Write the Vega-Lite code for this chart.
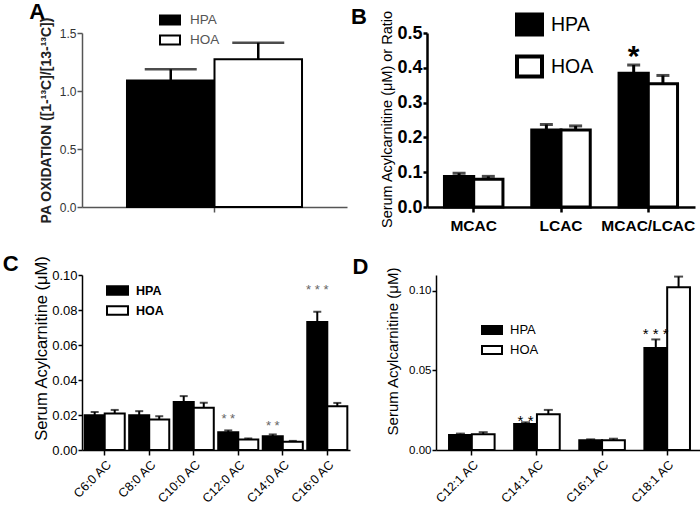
{
"$schema": "https://vega.github.io/schema/vega-lite/v6.json",
"background": "white",
"padding": {"left": 2, "top": 1, "right": 0, "bottom": 0},
"config": {"font": "Liberation Sans", "view": {"stroke": null}, "axis": {"grid": false, "labelOverlap": false}, "title": {"fontSize": 22, "fontWeight": "bold", "anchor": "start", "frame": "bounds", "color": "black", "baseline": "alphabetic"}},
"datasets": {
 "A": [
  {"cat": "PA", "group": "HPA", "value": 1.09, "err": 1.187},
  {"cat": "PA", "group": "HOA", "value": 1.273, "err": 1.416}
 ],
 "B": [
  {"cat": "MCAC", "group": "HPA", "value": 0.088, "err": 0.097, "star": "", "star_y": 0.097},
  {"cat": "MCAC", "group": "HOA", "value": 0.080, "err": 0.088, "star": "", "star_y": 0.088},
  {"cat": "LCAC", "group": "HPA", "value": 0.221, "err": 0.237, "star": "", "star_y": 0.237},
  {"cat": "LCAC", "group": "HOA", "value": 0.221, "err": 0.233, "star": "", "star_y": 0.233},
  {"cat": "MCAC/LCAC", "group": "HPA", "value": 0.384, "err": 0.408, "star": "*", "star_y": 0.453},
  {"cat": "MCAC/LCAC", "group": "HOA", "value": 0.354, "err": 0.378, "star": "", "star_y": 0.378}
 ],
 "C": [
  {"cat": "C6:0 AC", "group": "HPA", "value": 0.0198, "err": 0.0217, "star": "", "star_y": 0.0217},
  {"cat": "C6:0 AC", "group": "HOA", "value": 0.0209, "err": 0.0229, "star": "", "star_y": 0.0229},
  {"cat": "C8:0 AC", "group": "HPA", "value": 0.0198, "err": 0.0222, "star": "", "star_y": 0.0222},
  {"cat": "C8:0 AC", "group": "HOA", "value": 0.0174, "err": 0.0193, "star": "", "star_y": 0.0193},
  {"cat": "C10:0 AC", "group": "HPA", "value": 0.0275, "err": 0.0308, "star": "", "star_y": 0.0308},
  {"cat": "C10:0 AC", "group": "HOA", "value": 0.0241, "err": 0.0270, "star": "", "star_y": 0.0270},
  {"cat": "C12:0 AC", "group": "HPA", "value": 0.0102, "err": 0.0112, "star": "* *", "star_y": 0.0194},
  {"cat": "C12:0 AC", "group": "HOA", "value": 0.0060, "err": 0.0066, "star": "", "star_y": 0.0066},
  {"cat": "C14:0 AC", "group": "HPA", "value": 0.0079, "err": 0.0089, "star": "* *", "star_y": 0.0156},
  {"cat": "C14:0 AC", "group": "HOA", "value": 0.0047, "err": 0.0052, "star": "", "star_y": 0.0052},
  {"cat": "C16:0 AC", "group": "HPA", "value": 0.0732, "err": 0.0790, "star": "* * *", "star_y": 0.0932},
  {"cat": "C16:0 AC", "group": "HOA", "value": 0.0250, "err": 0.0269, "star": "", "star_y": 0.0269}
 ],
 "D": [
  {"cat": "C12:1 AC", "group": "HPA", "value": 0.0094, "err": 0.0103, "star": "", "star_y": 0.0103},
  {"cat": "C12:1 AC", "group": "HOA", "value": 0.0099, "err": 0.0112, "star": "", "star_y": 0.0112},
  {"cat": "C14:1 AC", "group": "HPA", "value": 0.0163, "err": 0.0174, "star": "* *", "star_y": 0.0210},
  {"cat": "C14:1 AC", "group": "HOA", "value": 0.0224, "err": 0.0252, "star": "", "star_y": 0.0252},
  {"cat": "C16:1 AC", "group": "HPA", "value": 0.0062, "err": 0.0067, "star": "", "star_y": 0.0067},
  {"cat": "C16:1 AC", "group": "HOA", "value": 0.0062, "err": 0.0071, "star": "", "star_y": 0.0071},
  {"cat": "C18:1 AC", "group": "HPA", "value": 0.0641, "err": 0.0695, "star": "* * *", "star_y": 0.0752},
  {"cat": "C18:1 AC", "group": "HOA", "value": 0.1023, "err": 0.1090, "star": "", "star_y": 0.1090}
 ]
},
"resolve": {"scale": {"fill": "independent", "xOffset": "independent"}, "legend": {"fill": "independent"}},
"spacing": 19,
"columns": 1,
"align": "none",
"concat": [
 {
  "hconcat": [
   {
    "width": 265, "height": 174,
    "title": {"text": "A", "dx": -10, "offset": -15},
    "data": {"name": "A"},
    "encoding": {
     "x": {"field": "cat", "type": "nominal", "title": null, "scale": {"type": "band", "paddingInner": 0, "paddingOuter": 0.257}, "axis": {"labels": false, "ticks": true, "tickSize": 5, "tickColor": "#555", "domainColor": "#555", "domainWidth": 1.5, "tickWidth": 1.5}},
     "xOffset": {"field": "group", "type": "nominal", "scale": {"type": "band", "domain": ["HPA", "HOA"], "paddingInner": 0, "paddingOuter": 0}}
    },
    "layer": [
     {"mark": {"type": "bar", "stroke": "black", "strokeWidth": 2},
      "encoding": {
       "y": {"field": "value", "type": "quantitative", "scale": {"domain": [0, 1.5], "nice": false}, "axis": {"title": "PA OXIDATION ([1-¹³C]/[13-¹³C])", "values": [0, 0.5, 1, 1.5], "format": ".1f", "labelOverlap": false, "labelFontSize": 12, "labelColor": "#333", "titleFontSize": 14, "titleFontWeight": "bold", "titleColor": "#222", "domainColor": "#555", "tickColor": "#555", "domainWidth": 1.5, "tickWidth": 1.5, "tickSize": 5, "labelPadding": 1, "titlePadding": 6}},
       "fill": {"field": "group", "type": "nominal", "scale": {"domain": ["HPA", "HOA"], "range": ["black", "white"]}, "legend": {"orient": "none", "legendX": 77, "legendY": -24, "title": null, "symbolType": "M-1,-0.45H1V0.45H-1Z", "symbolSize": 400, "symbolStrokeColor": "black", "symbolStrokeWidth": 2, "labelFontSize": 13.5, "labelColor": "#555", "labelOffset": 9, "rowPadding": 0, "padding": 0}}
      }},
     {"mark": {"type": "rule", "strokeWidth": 2.5, "color": "black"},
      "encoding": {"y": {"field": "value", "type": "quantitative", "scale": {"domain": [0, 1.5], "nice": false}, "axis": {"title": "PA OXIDATION ([1-¹³C]/[13-¹³C])", "values": [0, 0.5, 1, 1.5], "format": ".1f", "labelOverlap": false, "labelFontSize": 12, "labelColor": "#333", "titleFontSize": 14, "titleFontWeight": "bold", "titleColor": "#222", "domainColor": "#555", "tickColor": "#555", "domainWidth": 1.5, "tickWidth": 1.5, "tickSize": 5, "labelPadding": 1, "titlePadding": 6}}, "y2": {"field": "err"}}},
     {"mark": {"type": "tick", "thickness": 2.5, "size": 52, "color": "black"},
      "encoding": {"y": {"field": "err", "type": "quantitative", "scale": {"domain": [0, 1.5], "nice": false}, "axis": {"title": "PA OXIDATION ([1-¹³C]/[13-¹³C])", "values": [0, 0.5, 1, 1.5], "format": ".1f", "labelOverlap": false, "labelFontSize": 12, "labelColor": "#333", "titleFontSize": 14, "titleFontWeight": "bold", "titleColor": "#222", "domainColor": "#555", "tickColor": "#555", "domainWidth": 1.5, "tickWidth": 1.5, "tickSize": 5, "labelPadding": 1, "titlePadding": 6}}}}
    ]
   },
   {
    "width": 268, "height": 174,
    "title": {"text": "B", "dx": -29, "offset": -19},
    "data": {"name": "B"},
    "encoding": {
     "x": {"field": "cat", "type": "nominal", "title": null, "scale": {"type": "band", "domain": ["MCAC", "LCAC", "MCAC/LCAC"], "paddingInner": 0.33, "paddingOuter": 0.2}, "axis": {"labelAngle": 0, "labelFontSize": 15.5, "labelFontWeight": "bold", "labelColor": "black", "tickSize": 5, "tickColor": "black", "tickWidth": 2.5, "domainColor": "black", "domainWidth": 2.5, "labelPadding": 6}},
     "xOffset": {"field": "group", "type": "nominal", "scale": {"type": "band", "domain": ["HPA", "HOA"], "paddingInner": 0, "paddingOuter": 0}}
    },
    "layer": [
     {"mark": {"type": "bar", "stroke": "black", "strokeWidth": 3},
      "encoding": {
       "y": {"field": "value", "type": "quantitative", "scale": {"domain": [0, 0.5], "nice": false}, "axis": {"title": "Serum Acylcarnitine (μM) or Ratio", "titleY": 86, "values": [0, 0.1, 0.2, 0.3, 0.4, 0.5], "format": ".1f", "labelOverlap": false, "labelFontSize": 18, "labelFontWeight": "bold", "labelColor": "black", "titleFontSize": 14.5, "titleFontWeight": "normal", "titleColor": "black", "domainColor": "black", "tickColor": "black", "domainWidth": 2.5, "tickWidth": 2.5, "tickSize": 4, "labelPadding": 1, "titlePadding": 2}},
       "fill": {"field": "group", "type": "nominal", "scale": {"domain": ["HPA", "HOA"], "range": ["black", "white"]}, "legend": {"orient": "none", "legendX": 88, "legendY": -23, "title": null, "symbolType": "M-1,-0.8H1V0.8H-1Z", "symbolSize": 625, "symbolStrokeColor": "black", "symbolStrokeWidth": 4, "labelFontSize": 19.5, "labelColor": "black", "labelOffset": 7, "rowPadding": 5, "padding": 0}}
      }},
     {"mark": {"type": "rule", "strokeWidth": 3, "color": "black"},
      "encoding": {"y": {"field": "value", "type": "quantitative", "scale": {"domain": [0, 0.5], "nice": false}, "axis": {"title": "Serum Acylcarnitine (μM) or Ratio", "titleY": 86, "values": [0, 0.1, 0.2, 0.3, 0.4, 0.5], "format": ".1f", "labelOverlap": false, "labelFontSize": 18, "labelFontWeight": "bold", "labelColor": "black", "titleFontSize": 14.5, "titleFontWeight": "normal", "titleColor": "black", "domainColor": "black", "tickColor": "black", "domainWidth": 2.5, "tickWidth": 2.5, "tickSize": 4, "labelPadding": 1, "titlePadding": 2}}, "y2": {"field": "err"}}},
     {"mark": {"type": "tick", "thickness": 3, "size": 13, "color": "black"},
      "encoding": {"y": {"field": "err", "type": "quantitative", "scale": {"domain": [0, 0.5], "nice": false}, "axis": {"title": "Serum Acylcarnitine (μM) or Ratio", "titleY": 86, "values": [0, 0.1, 0.2, 0.3, 0.4, 0.5], "format": ".1f", "labelOverlap": false, "labelFontSize": 18, "labelFontWeight": "bold", "labelColor": "black", "titleFontSize": 14.5, "titleFontWeight": "normal", "titleColor": "black", "domainColor": "black", "tickColor": "black", "domainWidth": 2.5, "tickWidth": 2.5, "tickSize": 4, "labelPadding": 1, "titlePadding": 2}}}},
     {"mark": {"type": "text", "fontSize": 30, "fontWeight": "bold", "baseline": "middle", "dy": 8, "color": "black"},
      "encoding": {"y": {"field": "star_y", "type": "quantitative", "scale": {"domain": [0, 0.5], "nice": false}, "axis": {"title": "Serum Acylcarnitine (μM) or Ratio", "titleY": 86, "values": [0, 0.1, 0.2, 0.3, 0.4, 0.5], "format": ".1f", "labelOverlap": false, "labelFontSize": 18, "labelFontWeight": "bold", "labelColor": "black", "titleFontSize": 14.5, "titleFontWeight": "normal", "titleColor": "black", "domainColor": "black", "tickColor": "black", "domainWidth": 2.5, "tickWidth": 2.5, "tickSize": 4, "labelPadding": 1, "titlePadding": 2}}, "text": {"field": "star", "type": "nominal"}}}
    ]
   }
  ],
  "spacing": 3,
  "resolve": {"scale": {"fill": "independent", "xOffset": "independent"}, "legend": {"fill": "independent"}}
 },
 {
  "hconcat": [
   {
    "width": 268, "height": 175,
    "title": {"text": "C", "dx": -31, "offset": -21},
    "data": {"name": "C"},
    "encoding": {
     "x": {"field": "cat", "type": "nominal", "title": null, "scale": {"type": "band", "domain": ["C6:0 AC", "C8:0 AC", "C10:0 AC", "C12:0 AC", "C14:0 AC", "C16:0 AC"], "paddingInner": 0.1, "paddingOuter": 0.06}, "axis": {"labelAngle": -45, "labelFontSize": 12.5, "labelColor": "black", "tickSize": 5, "tickColor": "black", "tickWidth": 1.5, "domainColor": "black", "domainWidth": 1.5, "labelPadding": 3}},
     "xOffset": {"field": "group", "type": "nominal", "scale": {"type": "band", "domain": ["HPA", "HOA"], "paddingInner": 0, "paddingOuter": 0}}
    },
    "layer": [
     {"mark": {"type": "bar", "stroke": "black", "strokeWidth": 2},
      "encoding": {
       "y": {"field": "value", "type": "quantitative", "scale": {"domain": [0, 0.1], "nice": false}, "axis": {"title": "Serum Acylcarnitine (μM)", "titleY": 73, "values": [0, 0.02, 0.04, 0.06, 0.08, 0.1], "format": ".2f", "labelOverlap": false, "labelFontSize": 13, "labelColor": "black", "titleFontSize": 16.5, "titleFontWeight": "normal", "titleColor": "black", "domainColor": "black", "tickColor": "black", "domainWidth": 1.5, "tickWidth": 1.5, "tickSize": 4, "labelPadding": 1, "titlePadding": 2}},
       "fill": {"field": "group", "type": "nominal", "scale": {"domain": ["HPA", "HOA"], "range": ["black", "white"]}, "legend": {"orient": "none", "legendX": 24, "legendY": 4, "title": null, "symbolType": "M-1,-0.4H1V0.4H-1Z", "symbolSize": 441, "symbolStrokeColor": "black", "symbolStrokeWidth": 2, "labelFontSize": 12.5, "labelFontWeight": "bold", "labelColor": "black", "labelOffset": 7, "rowPadding": 0, "padding": 0}}
      }},
     {"mark": {"type": "rule", "strokeWidth": 2, "color": "black"},
      "encoding": {"y": {"field": "value", "type": "quantitative", "scale": {"domain": [0, 0.1], "nice": false}, "axis": {"title": "Serum Acylcarnitine (μM)", "titleY": 73, "values": [0, 0.02, 0.04, 0.06, 0.08, 0.1], "format": ".2f", "labelOverlap": false, "labelFontSize": 13, "labelColor": "black", "titleFontSize": 16.5, "titleFontWeight": "normal", "titleColor": "black", "domainColor": "black", "tickColor": "black", "domainWidth": 1.5, "tickWidth": 1.5, "tickSize": 4, "labelPadding": 1, "titlePadding": 2}}, "y2": {"field": "err"}}},
     {"mark": {"type": "tick", "thickness": 2, "size": 8, "color": "black"},
      "encoding": {"y": {"field": "err", "type": "quantitative", "scale": {"domain": [0, 0.1], "nice": false}, "axis": {"title": "Serum Acylcarnitine (μM)", "titleY": 73, "values": [0, 0.02, 0.04, 0.06, 0.08, 0.1], "format": ".2f", "labelOverlap": false, "labelFontSize": 13, "labelColor": "black", "titleFontSize": 16.5, "titleFontWeight": "normal", "titleColor": "black", "domainColor": "black", "tickColor": "black", "domainWidth": 1.5, "tickWidth": 1.5, "tickSize": 4, "labelPadding": 1, "titlePadding": 2}}}},
     {"mark": {"type": "text", "fontSize": 13, "baseline": "middle", "dy": 3, "color": "#666"},
      "encoding": {"y": {"field": "star_y", "type": "quantitative", "scale": {"domain": [0, 0.1], "nice": false}, "axis": {"title": "Serum Acylcarnitine (μM)", "titleY": 73, "values": [0, 0.02, 0.04, 0.06, 0.08, 0.1], "format": ".2f", "labelOverlap": false, "labelFontSize": 13, "labelColor": "black", "titleFontSize": 16.5, "titleFontWeight": "normal", "titleColor": "black", "domainColor": "black", "tickColor": "black", "domainWidth": 1.5, "tickWidth": 1.5, "tickSize": 4, "labelPadding": 1, "titlePadding": 2}}, "text": {"field": "star", "type": "nominal"}}}
    ]
   },
   {
    "width": 267, "height": 175,
    "title": {"text": "D", "dx": -33, "offset": -12},
    "data": {"name": "D"},
    "encoding": {
     "x": {"field": "cat", "type": "nominal", "title": null, "scale": {"type": "band", "domain": ["C12:1 AC", "C14:1 AC", "C16:1 AC", "C18:1 AC"], "paddingInner": 0.3, "paddingOuter": 0.2}, "axis": {"labelAngle": -45, "labelFontSize": 12.5, "labelColor": "black", "tickSize": 5, "tickColor": "black", "tickWidth": 1.5, "domainColor": "black", "domainWidth": 1.5, "labelPadding": 3}},
     "xOffset": {"field": "group", "type": "nominal", "scale": {"type": "band", "domain": ["HPA", "HOA"], "paddingInner": 0, "paddingOuter": 0}}
    },
    "layer": [
     {"mark": {"type": "bar", "stroke": "black", "strokeWidth": 2},
      "encoding": {
       "y": {"field": "value", "type": "quantitative", "scale": {"domain": [0, 0.11], "nice": false}, "axis": {"title": "Serum Acylcarnitine (μM)", "titleY": 76, "values": [0, 0.05, 0.1], "format": ".2f", "labelOverlap": false, "labelFontSize": 11.5, "labelColor": "black", "titleFontSize": 15, "titleFontWeight": "normal", "titleColor": "black", "domainColor": "black", "tickColor": "black", "domainWidth": 1.5, "tickWidth": 1.5, "tickSize": 4, "labelPadding": 1, "titlePadding": 8}},
       "fill": {"field": "group", "type": "nominal", "scale": {"domain": ["HPA", "HOA"], "range": ["black", "white"]}, "legend": {"orient": "none", "legendX": 45, "legendY": 44, "title": null, "symbolType": "M-1,-0.4H1V0.4H-1Z", "symbolSize": 400, "symbolStrokeColor": "black", "symbolStrokeWidth": 2, "labelFontSize": 13, "labelColor": "black", "labelOffset": 7, "rowPadding": 1, "padding": 0}}
      }},
     {"mark": {"type": "rule", "strokeWidth": 2, "color": "black"},
      "encoding": {"y": {"field": "value", "type": "quantitative", "scale": {"domain": [0, 0.11], "nice": false}, "axis": {"title": "Serum Acylcarnitine (μM)", "titleY": 76, "values": [0, 0.05, 0.1], "format": ".2f", "labelOverlap": false, "labelFontSize": 11.5, "labelColor": "black", "titleFontSize": 15, "titleFontWeight": "normal", "titleColor": "black", "domainColor": "black", "tickColor": "black", "domainWidth": 1.5, "tickWidth": 1.5, "tickSize": 4, "labelPadding": 1, "titlePadding": 8}}, "y2": {"field": "err"}}},
     {"mark": {"type": "tick", "thickness": 2, "size": 9, "color": "black"},
      "encoding": {"y": {"field": "err", "type": "quantitative", "scale": {"domain": [0, 0.11], "nice": false}, "axis": {"title": "Serum Acylcarnitine (μM)", "titleY": 76, "values": [0, 0.05, 0.1], "format": ".2f", "labelOverlap": false, "labelFontSize": 11.5, "labelColor": "black", "titleFontSize": 15, "titleFontWeight": "normal", "titleColor": "black", "domainColor": "black", "tickColor": "black", "domainWidth": 1.5, "tickWidth": 1.5, "tickSize": 4, "labelPadding": 1, "titlePadding": 8}}}},
     {"mark": {"type": "text", "fontSize": 15, "baseline": "middle", "dy": 4, "color": "black"},
      "encoding": {"y": {"field": "star_y", "type": "quantitative", "scale": {"domain": [0, 0.11], "nice": false}, "axis": {"title": "Serum Acylcarnitine (μM)", "titleY": 76, "values": [0, 0.05, 0.1], "format": ".2f", "labelOverlap": false, "labelFontSize": 11.5, "labelColor": "black", "titleFontSize": 15, "titleFontWeight": "normal", "titleColor": "black", "domainColor": "black", "tickColor": "black", "domainWidth": 1.5, "tickWidth": 1.5, "tickSize": 4, "labelPadding": 1, "titlePadding": 8}}, "text": {"field": "star", "type": "nominal"}}}
    ]
   }
  ],
  "spacing": 2,
  "resolve": {"scale": {"fill": "independent", "xOffset": "independent"}, "legend": {"fill": "independent"}}
 }
]
}
